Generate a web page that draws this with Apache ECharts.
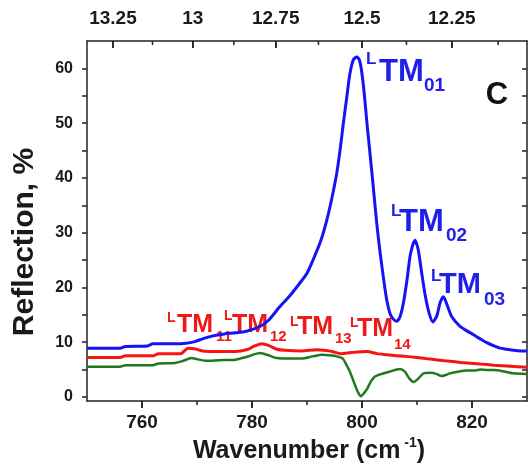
<!DOCTYPE html>
<html><head><meta charset="utf-8">
<script src="https://cdn.jsdelivr.net/npm/echarts@6/dist/echarts.min.js"></script>
<style>html,body{margin:0;padding:0;background:#fff}#c{width:528px;height:465px}</style>
</head><body><div id="c"></div>
<script>
// ---- data ----
const wnTicks = [760, 780, 800, 820];
const wnMinor = [770, 790, 810];
const wlTicks = [13.25, 13, 12.75, 12.5, 12.25];
const wlMinor = [13.125, 12.875, 12.625, 12.375, 12.125];
const yTicks = [0, 10, 20, 30, 40, 50, 60];
const yAllTicks = [0, 5, 10, 15, 20, 25, 30, 35, 40, 45, 50, 55, 60];

const blueX = [750,753,756,757,761,762,766,768,769.6,771,772.7,775,777,779,781.5,783,785,787,788.7,790,791.1,792.5,793.6,794.5,795.4,796.0,796.6,797.2,797.8,798.4,799.0,799.5,799.9,800.4,800.9,801.5,802.1,802.7,803.3,804.0,804.5,805.1,805.7,806.3,806.9,807.5,808.2,808.8,809.6,810.2,810.8,811.5,812.2,812.9,813.6,814.2,814.8,815.4,816.3,817.8,819,820.2,821.5,822.7,824,825.1,826.3,827.5,829,830];
const blueY = [8.9,8.9,8.9,9.2,9.3,9.7,9.7,9.8,10.1,10.6,11.1,11.5,11.7,12.0,12.9,14.0,16.4,18.6,20.8,22.6,25.0,28.5,32.3,36.2,40.8,45.0,49.9,54.5,59.0,61.5,62.1,61.6,59.7,55.5,50.0,44.0,37.8,31.5,26.3,21.0,17.7,15.2,14.2,13.8,14.6,17.0,21.5,26.0,28.6,27.0,23.0,18.5,15.3,13.7,14.8,17.2,18.3,17.0,14.7,12.9,12.1,11.4,10.6,9.9,9.3,8.9,8.7,8.5,8.4,8.4];

const redX = [750,756,757,762,763,767,768.4,769.5,771,774,777,779,780.5,781.8,783,784.5,786,789,791.9,793,794.5,796.2,798,800.9,802.7,804.5,806.3,808,810,812.4,815,818,821.5,824,827,830];
const redY = [7.2,7.2,7.5,7.5,7.9,7.9,8.9,8.8,8.4,8.3,8.3,8.6,9.3,9.7,9.4,8.7,8.5,8.4,8.6,8.5,8.3,7.9,8.1,8.3,7.9,7.7,7.5,7.4,7.2,6.9,6.6,6.3,6.0,5.8,5.6,5.4];

const greenX = [750,756,757,762,763,766,767.5,769,770,771.5,774,777,779,781.5,783,784.5,787,789,791,792.8,794,795.4,796.5,797.2,797.8,798.3,798.8,799.3,799.8,800.3,800.9,801.5,802.2,803.3,805,806.9,807.8,808.5,809.4,810.2,811.2,812.5,813.5,814.5,815.2,816,817.5,819,820.5,821.5,822.7,824,825.5,827.5,830];
const greenY = [5.5,5.5,5.8,5.8,6.1,6.2,6.6,7.1,6.9,6.6,6.7,6.8,7.3,8.0,7.6,7.1,7.0,7.0,7.4,7.7,7.6,7.4,7.0,5.8,4.6,3.3,2.0,0.8,0.1,0.6,1.4,2.6,3.6,4.1,4.6,5.1,4.6,3.5,2.7,3.3,4.3,4.4,4.2,3.8,4.0,4.3,4.6,4.8,4.8,5.0,4.9,4.9,4.7,4.3,4.2];

const blueModes = ['01', '02', '03'];
const redModes = ['11', '12', '13', '14'];
const panelLetter = 'C';

// ---- chart ----
const FF = '"Liberation Sans", Arial, sans-serif';
const TXT = '#1a1a1a';
const AX = '#222';
const zip = (xs, ys) => xs.map((x, i) => [x, ys[i]]);

function label(sub, color, L, TM, S) {
  return [
    { type: 'text', x: L[0], y: L[1], style: { text: 'L', fill: color, font: 'bold ' + L[2] + 'px ' + FF, textAlign: 'left', textVerticalAlign: 'middle', align: 'left', verticalAlign: 'middle' } },
    { type: 'text', x: TM[0], y: TM[1], style: { text: 'TM', fill: color, font: 'bold ' + TM[2] + 'px ' + FF, textAlign: 'left', textVerticalAlign: 'middle', align: 'left', verticalAlign: 'middle' } },
    { type: 'text', x: S[0], y: S[1], style: { text: sub, fill: color, font: 'bold ' + S[2] + 'px ' + FF, textAlign: 'left', textVerticalAlign: 'middle', align: 'left', verticalAlign: 'middle' } }
  ];
}
const BLUE_T = '#1f1fe8', RED_T = '#f01818';
const textGraphics = [].concat(
  label(blueModes[0], BLUE_T, [366, 59, 17], [379, 72, 31], [424, 86, 19]),
  label(blueModes[1], BLUE_T, [391, 211, 17], [399, 222, 31], [446, 236, 19]),
  label(blueModes[2], BLUE_T, [431, 276, 17], [439, 285, 29], [484, 300, 19]),
  label(redModes[0], RED_T, [167, 318, 14], [177, 325, 25], [216, 337, 15]),
  label(redModes[1], RED_T, [224, 316, 14], [232, 325, 25], [270, 337, 15]),
  label(redModes[2], RED_T, [290, 322, 14], [297, 327, 25], [335, 339, 15]),
  label(redModes[3], RED_T, [350, 323, 14], [357, 329, 25], [394, 345, 15]),
  [
    { type: 'text', x: 497, y: 95, style: { text: panelLetter, fill: '#111', font: 'bold 31px ' + FF, textAlign: 'center', textVerticalAlign: 'middle', align: 'center', verticalAlign: 'middle' } },
    { type: 'text', x: 25, y: 242, rotation: Math.PI / 2, style: { text: 'Reflection, %', fill: TXT, font: 'bold 30px ' + FF, textAlign: 'center', textVerticalAlign: 'middle', align: 'center', verticalAlign: 'middle' } },
    { type: 'text', x: 309, y: 451, style: {
      text: '{a|Wavenumber (cm}{s| -1}{a|)}', fill: TXT,
      rich: {
        a: { fontSize: 25, fontWeight: 'bold', fontFamily: FF, fill: TXT, lineHeight: 30 },
        s: { fontSize: 14, fontWeight: 'bold', fontFamily: FF, fill: TXT, lineHeight: 14, verticalAlign: 'top' }
      },
      textAlign: 'center', textVerticalAlign: 'middle', align: 'center', verticalAlign: 'middle' } }
  ]
);

const chart = echarts.init(document.getElementById('c'));
const topMajor = wlTicks.map(v => 10000 / v);
const topMinor = wlMinor.map(v => 10000 / v);
const YMIN = -0.75, YMAX = 65;

chart.setOption({
  animation: false,
  grid: { left: 87, right: 1, top: 41, bottom: 64, outerBoundsMode: 'none' },
  xAxis: [
    { type: 'value', position: 'bottom', min: 750, max: 830,
      axisLine: { onZero: false, lineStyle: { color: AX, width: 1.5 } },
      axisTick: { show: true, customValues: wnTicks, length: 7, lineStyle: { color: AX, width: 1.5 } },
      axisLabel: { customValues: wnTicks, margin: 12, fontSize: 19, fontWeight: 'bold', color: TXT, fontFamily: FF },
      splitLine: { show: false } },
    { type: 'value', position: 'top', min: 750, max: 830,
      axisLine: { onZero: false, lineStyle: { color: AX, width: 1.5 } },
      axisTick: { show: true, inside: true, customValues: topMajor, length: 7, lineStyle: { color: AX, width: 1.5 } },
      axisLabel: { customValues: topMajor, margin: 13, fontSize: 19, fontWeight: 'bold', color: TXT, fontFamily: FF,
        formatter: v => String(Math.round(10000 / v * 100) / 100) },
      splitLine: { show: false } }
  ],
  yAxis: [
    { type: 'value', position: 'left', min: YMIN, max: YMAX,
      axisLine: { show: true, onZero: false, lineStyle: { color: AX, width: 1.5 } },
      axisTick: { show: true, customValues: yAllTicks, length: 5, lineStyle: { color: AX, width: 1.5 } },
      axisLabel: { customValues: yTicks, margin: 14, fontSize: 16, fontWeight: 'bold', color: TXT, fontFamily: FF },
      splitLine: { show: false } },
    { type: 'value', position: 'right', min: YMIN, max: YMAX,
      axisLine: { show: true, onZero: false, lineStyle: { color: AX, width: 1.5 } },
      axisTick: { show: true, inside: true, customValues: yAllTicks, length: 5, lineStyle: { color: AX, width: 1.5 } },
      axisLabel: { show: false }, splitLine: { show: false } }
  ],
  series: [
    { type: 'line', name: 'green', data: zip(greenX, greenY), showSymbol: false, smooth: 0.25,
      lineStyle: { color: '#1f7a1f', width: 2.5 } },
    { type: 'line', name: 'red', data: zip(redX, redY), showSymbol: false, smooth: 0.25,
      lineStyle: { color: '#f51414', width: 3 } },
    { type: 'line', name: 'blue', data: zip(blueX, blueY), showSymbol: false, smooth: 0.25,
      lineStyle: { color: '#1414f5', width: 3 } }
  ]
});

// x tick marks positioned through the chart's own x scale (bottom outward, top inward)
const tickGraphics = [];
const bottomPx = chart.convertToPixel({ yAxisIndex: 0 }, YMIN);
const topPx = chart.convertToPixel({ yAxisIndex: 0 }, YMAX);
function addTicks(values, y0, len) {
  values.forEach(v => {
    const px = chart.convertToPixel({ xAxisIndex: 0 }, v);
    tickGraphics.push({ type: 'line', silent: true, z: 100,
      shape: { x1: px, y1: y0, x2: px, y2: y0 + len },
      style: { stroke: AX, lineWidth: 1.5 } });
  });
}
addTicks(wnTicks, bottomPx, 7);
addTicks(wnMinor, bottomPx, 4);
addTicks(topMajor, topPx, 7);
addTicks(topMinor, topPx, 4);

chart.setOption({ graphic: textGraphics.concat(tickGraphics) });
</script>
</body></html>
